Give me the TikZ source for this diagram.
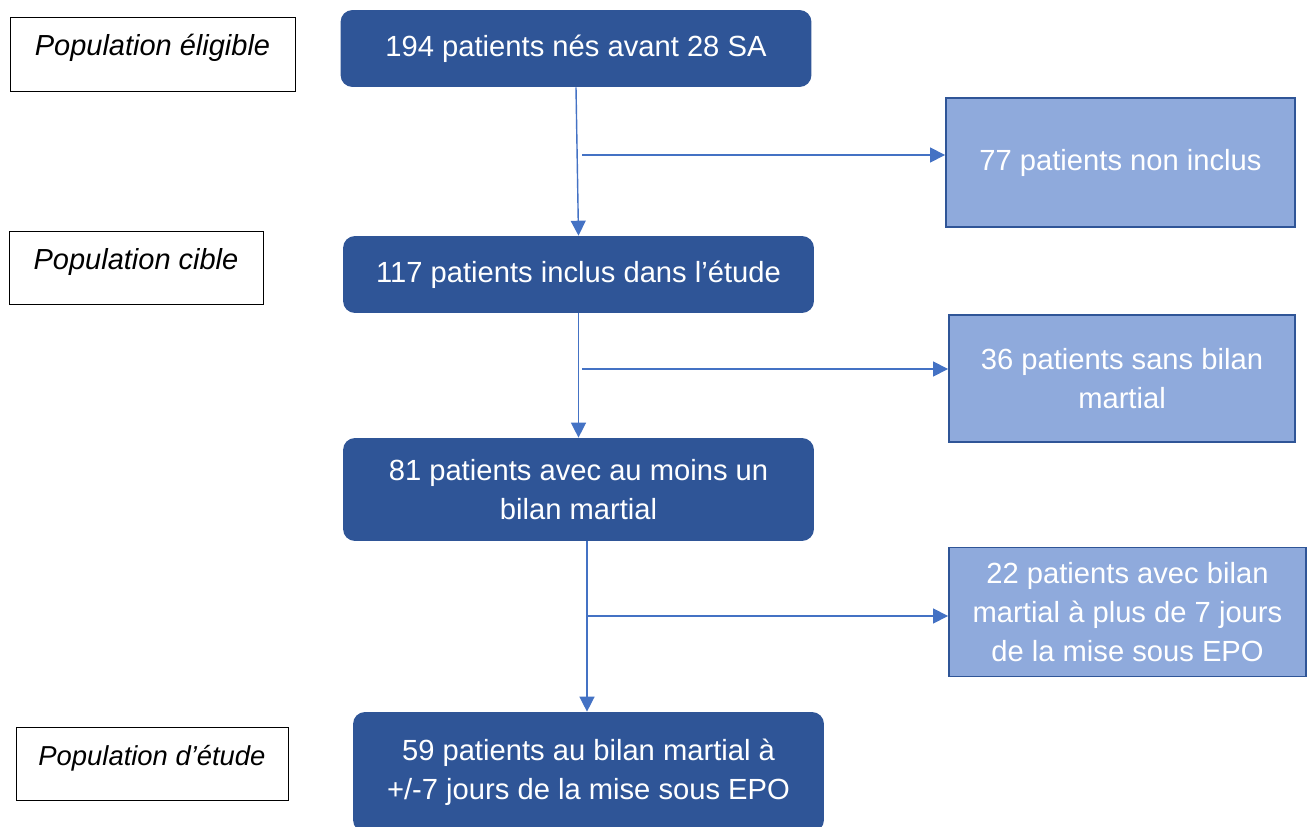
\documentclass[tikz,border=0pt]{standalone}
\usepackage{fontspec}
\setmainfont{Liberation Sans}
\usetikzlibrary{arrows.meta}
\definecolor{dark-box}{HTML}{2F5597}
\definecolor{light-box}{HTML}{8FAADC}
\definecolor{link}{HTML}{4472C4}

\begin{document}
\begin{tikzpicture}[x=0.02cm, y=-0.02cm,
    every node/.style={font=\fontsize{16.6}{22.3}\selectfont, align=center, inner sep=0pt},
    popbox/.style={draw=black, line width=0.5pt, fill=white, text height=0.4cm, text depth=0.32cm,
      font=\fontsize{16.5}{19}\selectfont\itshape},
    mainbox/.style={fill=dark-box, text=white, rounded corners=0.24cm, minimum width=9.42cm},
    sidebox/.style={draw=dark-box, line width=1.1pt, fill=light-box, text=white},
    flow/.style={draw=link, line width=0.8pt, -{Triangle[length=8.5pt, width=8.5pt]}}]
    \useasboundingbox (0,0) rectangle (1313,827);
    % left labels
    \node[popbox, minimum width=5.7cm, minimum height=1.48cm] (elig) at (152.5, 54) {Population éligible};
    \node[popbox, minimum width=5.08cm, minimum height=1.46cm] (cible) at (136, 267.5) {Population cible};
    \node[popbox, minimum width=5.44cm, minimum height=1.46cm, font=\fontsize{15.6}{19}\selectfont\itshape]
      (etude) at (152, 763.5) {Population d’étude};
    % main column
    \node[mainbox, minimum height=1.54cm] (n194) at (576, 48.5) {194 patients nés avant 28 SA};
    \node[mainbox, minimum height=1.54cm] (n117) at (578.5, 274.5) {117 patients inclus dans l’étude};
    \node[mainbox, minimum height=2.06cm] (n81) at (578.5, 489.5) {81 patients avec au moins un\\bilan martial};
    \node[mainbox, minimum height=2.4cm] (n59) at (588.5, 772) {59 patients au bilan martial à\\+/-7 jours de la mise sous EPO};
    % excluded
    \node[sidebox, minimum width=6.98cm, minimum height=2.58cm] (n77) at (1120.5, 162.5) {77 patients non inclus};
    \node[sidebox, minimum width=6.92cm, minimum height=2.54cm] (n36) at (1122, 378.5) {36 patients sans bilan\\martial};
    \node[sidebox, minimum width=7.14cm, minimum height=2.58cm] (n22) at (1127.5, 612) {22 patients avec bilan\\martial à plus de 7 jours\\de la mise sous EPO};
    % branch points
    \coordinate (b1) at (582, 155);
    \coordinate (b2) at (582, 369);
    \coordinate (b3) at (587, 616);
    \draw[flow] (n194.south) -- (n117.north);
    \draw[flow] (n117.south) -- (n81.north);
    \draw[flow] (n81.south -| b3) -- (n59.north -| b3);
    \draw[flow] (b1) -- (b1 -| n77.west);
    \draw[flow] (b2) -- (b2 -| n36.west);
    \draw[flow] (b3) -- (b3 -| n22.west);
  \end{tikzpicture}
\end{document}
